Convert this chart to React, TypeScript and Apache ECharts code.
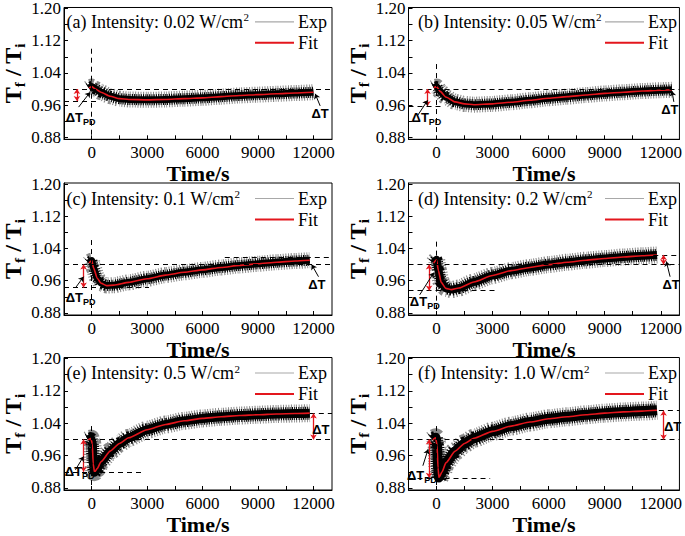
import React, { useEffect, useRef } from 'react';
import * as echarts from 'echarts';

// ---------- data ----------
const panelLetters = ['a', 'b', 'c', 'd', 'e', 'f'];
const intensities = ['0.02', '0.05', '0.1', '0.2', '0.5', '1.0'];

const xTickLabels = [0, 3000, 6000, 9000, 12000];
const xTicks = [-1500, 0, 1500, 3000, 4500, 6000, 7500, 9000, 10500, 12000];
const yTickLabels = [0.88, 0.96, 1.04, 1.12, 1.2];
const yTicks = [0.88, 0.92, 0.96, 1.0, 1.04, 1.08, 1.12, 1.16, 1.2];

const curveA = [[-150, 1.002], [0, 1.006], [200, 1.0], [500, 0.992], [1000, 0.982], [1500, 0.976], [2000, 0.974], [3000, 0.973], [4000, 0.974], [5000, 0.976], [6000, 0.978], [7000, 0.981], [8000, 0.984], [9000, 0.986], [10000, 0.988], [11000, 0.99], [12000, 0.992]];
const curveB = [[-150, 1.003], [0, 1.006], [200, 0.994], [500, 0.98], [1000, 0.968], [1500, 0.963], [2000, 0.961], [3000, 0.963], [4000, 0.967], [5000, 0.972], [6000, 0.977], [7000, 0.981], [8000, 0.985], [9000, 0.989], [10000, 0.992], [11000, 0.995], [12000, 0.997], [12600, 0.998]];
const curveC = [[-150, 1.004], [0, 1.01], [100, 0.992], [300, 0.966], [500, 0.954], [800, 0.948], [1200, 0.949], [2000, 0.956], [3000, 0.965], [4000, 0.974], [5000, 0.981], [6000, 0.987], [7000, 0.993], [8000, 0.998], [9000, 1.002], [10000, 1.006], [11000, 1.009], [11800, 1.011]];
const curveD = [[-150, 1.004], [0, 1.012], [100, 0.985], [250, 0.956], [500, 0.941], [800, 0.938], [1200, 0.942], [2000, 0.957], [3000, 0.973], [4000, 0.985], [5000, 0.993], [6000, 1.0], [7000, 1.006], [8000, 1.011], [9000, 1.015], [10000, 1.019], [11000, 1.022], [11800, 1.024]];
const curveE = [[-200, 0.999], [-50, 1.002], [30, 0.99], [80, 0.94], [150, 0.919], [300, 0.928], [500, 0.945], [1000, 0.971], [1500, 0.99], [2000, 1.004], [3000, 1.024], [4000, 1.037], [5000, 1.046], [6000, 1.052], [7000, 1.056], [8000, 1.059], [9000, 1.061], [10000, 1.063], [11000, 1.064], [11800, 1.065]];
const curveF = [[-200, 0.999], [-50, 1.004], [30, 0.985], [80, 0.93], [130, 0.906], [300, 0.92], [500, 0.942], [1000, 0.971], [1500, 0.99], [2000, 1.003], [3000, 1.02], [4000, 1.033], [5000, 1.043], [6000, 1.051], [7000, 1.056], [8000, 1.061], [9000, 1.065], [10000, 1.068], [11000, 1.07], [11800, 1.072]];
const curves = [curveA, curveB, curveC, curveD, curveE, curveF];

// annotation values (data space)
const baseLevel = 1.0;
const lowLevels = [0.97, 0.958, 0.943, 0.936, 0.92, 0.905];
const lowEnds = [450, 340, 3100, 3130, 2850, 2870];
const highLevels = [null, null, 1.018, 1.024, 1.064, 1.071];
const highStarts = [null, null, 7200, 11600, 11800, 11900];
const zeroLineTops = [1.1, 1.062, 1.061, 1.057, 1.033, 1.033];
const pdArrowX = [-800, -480, -440, -400, -440, -400];
const dtArrowX = [null, null, null, 12150, 12000, 12150];
const pdLabelAt = [[-600, 0.929], [-540, 0.929], [-600, 0.918], [-630, 0.909], [-650, 0.92], [-790, 0.911]];
const pdPointers = [
  [[-710, 0.955], [-85, 0.992]],
  [[-1000, 0.935], [-470, 0.972]],
  [[-870, 0.943], [-440, 0.97]],
  [[-900, 0.925], [-150, 0.98]],
  [[-880, 0.925], [-440, 0.958]],
  [[-730, 0.935], [-450, 0.976]],
];
const dtLabelAt = [[12360, 0.939], [12490, 0.95], [12180, 0.95], [12550, 0.95], [12400, 1.025], [12630, 1.033]];
const dtPointers = [
  [[12360, 0.958], [12090, 0.988]],
  [[12700, 0.968], [12600, 0.995]],
  [[12270, 0.97], [11900, 1.0]],
  [[12500, 0.97], [12300, 1.008]],
  null,
  null,
];

// ---------- layout / style ----------
const X_MIN = -1500;
const X_MAX = 13000;
const Y_MIN = 0.875;
const Y_MAX = 1.2025;
const COLS = [{ left: 60.5, width: 271.5, titleDx: 6 }, { left: 408.5, width: 273.5, titleDx: 9.5 }];
const ROWS = [{ top: 6.3, height: 133 }, { top: 183, height: 132 }, { top: 357.5, height: 134.5 }];
const bandWidths = [7, 7, 7, 8, 9, 10];
const SERIF = 'Liberation Serif';
const SANS = 'Liberation Sans';
const RED = '#e3161d';

function buildOption() {
  const grids: any[] = [];
  const xAxes: any[] = [];
  const yAxes: any[] = [];
  const series: any[] = [];
  const graphics: any[] = [];

  curves.forEach((curve, i) => {
    const col = COLS[i % 2];
    const row = ROWS[Math.floor(i / 2)];
    const right = col.left + col.width;
    grids.push({
      left: col.left, top: row.top, width: col.width, height: row.height,
      show: true, borderColor: '#000', borderWidth: 1, backgroundColor: 'transparent',
    });
    xAxes.push({
      type: 'value', gridIndex: i, min: X_MIN, max: X_MAX,
      axisLine: { show: true, onZero: false, lineStyle: { color: '#000', width: 1 } },
      axisTick: { show: true, inside: true, length: 4, customValues: xTicks, lineStyle: { color: '#000' } },
      axisLabel: {
        customValues: xTickLabels, color: '#000', fontFamily: SERIF, fontSize: 17, margin: 5,
        formatter: (v: number) => String(v),
      },
      splitLine: { show: false },
      name: 'Time/s', nameLocation: 'middle', nameGap: 23,
      nameTextStyle: { fontFamily: SERIF, fontWeight: 'bold', fontSize: 22, color: '#000' },
    });
    yAxes.push({
      type: 'value', gridIndex: i, min: Y_MIN, max: Y_MAX,
      axisLine: { show: true, onZero: false, lineStyle: { color: '#000', width: 1 } },
      axisTick: { show: true, inside: true, length: 4, customValues: yTicks, lineStyle: { color: '#000' } },
      axisLabel: {
        customValues: yTickLabels, color: '#000', fontFamily: SERIF, fontSize: 17, margin: 3,
        formatter: (v: number) => v.toFixed(2),
      },
      splitLine: { show: false },
      name: '{t|T}{s|f}{t| / T}{s|i}', nameLocation: 'middle', nameRotate: 90, nameGap: 37,
      nameTextStyle: {
        color: '#000',
        rich: {
          t: { fontFamily: SERIF, fontWeight: 'bold', fontSize: 24, lineHeight: 28, color: '#000' },
          s: { fontFamily: SERIF, fontWeight: 'bold', fontSize: 15, lineHeight: 10, verticalAlign: 'bottom', color: '#000' },
        },
      },
    });

    const dash = { type: [5, 4], color: '#000', width: 1 };
    const redStyle = { type: 'solid', color: RED, width: 1.3 };
    const blackStyle = { type: 'solid', color: '#000', width: 1 };
    const lines: any[] = [
      [{ coord: [X_MIN, baseLevel], symbol: 'none', lineStyle: dash }, { coord: [X_MAX, baseLevel], symbol: 'none' }],
      [{ coord: [X_MIN, lowLevels[i]], symbol: 'none', lineStyle: dash }, { coord: [lowEnds[i], lowLevels[i]], symbol: 'none' }],
      [{ coord: [0, zeroLineTops[i]], symbol: 'none', lineStyle: dash }, { coord: [0, Y_MIN], symbol: 'none' }],
      [{ coord: [pdArrowX[i], baseLevel], symbol: 'arrow', lineStyle: redStyle }, { coord: [pdArrowX[i], lowLevels[i]], symbol: 'arrow' }],
      [{ coord: pdPointers[i][0], symbol: 'none', lineStyle: blackStyle }, { coord: pdPointers[i][1], symbol: 'arrow' }],
    ];
    const hl = highLevels[i];
    const hs = highStarts[i];
    if (hl !== null && hs !== null) {
      lines.push([{ coord: [hs, hl], symbol: 'none', lineStyle: dash }, { coord: [X_MAX, hl], symbol: 'none' }]);
    }
    const dx = dtArrowX[i];
    if (dx !== null && hl !== null) {
      lines.push([{ coord: [dx, baseLevel], symbol: 'arrow', lineStyle: redStyle }, { coord: [dx, hl], symbol: 'arrow' }]);
    }
    const dp = dtPointers[i];
    if (dp) {
      lines.push([{ coord: dp[0], symbol: 'none', lineStyle: blackStyle }, { coord: dp[1], symbol: 'arrow' }]);
    }

    const common = {
      type: 'line', xAxisIndex: i, yAxisIndex: i, data: curve,
      showSymbol: false, smooth: 0.2, smoothMonotone: 'x', silent: true,
    };
    // Exp: noisy band imitated by hatched wide strokes around a black core
    series.push({
      ...common, name: 'Exp', z: 1,
      lineStyle: { color: '#8a8a8a', width: bandWidths[i] + 9, type: [1, 1.6] },
    });
    series.push({
      ...common, name: 'Exp', z: 2,
      lineStyle: { color: '#000', width: bandWidths[i] + 4, type: [1, 1.2] },
    });
    series.push({
      ...common, name: 'Exp', z: 3,
      lineStyle: { color: '#000', width: bandWidths[i] },
    });
    series.push({
      ...common, name: 'Fit', z: 4,
      lineStyle: { color: RED, width: 1.6 },
      markLine: {
        silent: true, symbolSize: 5, label: { show: false }, emphasis: { disabled: true },
        animation: false, data: lines,
      },
      markPoint: {
        silent: true, symbol: 'circle', symbolSize: 1,
        itemStyle: { color: 'rgba(0,0,0,0)' },
        label: {
          show: true, position: 'inside', color: '#000',
          rich: {
            d: { fontFamily: SANS, fontWeight: 'bold', fontSize: 13, lineHeight: 18, color: '#000' },
            p: { fontFamily: SANS, fontWeight: 'bold', fontSize: 9, lineHeight: 8, verticalAlign: 'bottom', color: '#000' },
          },
        },
        data: [
          { coord: pdLabelAt[i], label: { formatter: '{d|ΔT}{p|PD}' } },
          { coord: dtLabelAt[i], label: { formatter: '{d|ΔT}' } },
        ],
      },
    });

    // title
    graphics.push({
      type: 'text', silent: true,
      style: {
        x: col.left + col.titleDx, y: row.top + 15.5,
        text: `{t|(${panelLetters[i]}) Intensity: ${intensities[i]} W/cm}{s|2}`,
        verticalAlign: 'middle', align: 'left',
        rich: {
          t: { fontFamily: SERIF, fontSize: 18, lineHeight: 20, fill: '#000' },
          s: { fontFamily: SERIF, fontSize: 11, lineHeight: 10, verticalAlign: 'top', fill: '#000' },
        },
      },
    });
    // legend
    const ly1 = row.top + 15.5;
    const ly2 = row.top + 36.5;
    graphics.push({ type: 'line', silent: true, shape: { x1: right - 77, y1: ly1, x2: right - 38, y2: ly1 }, style: { stroke: '#a8a8a8', lineWidth: 1.2 } });
    graphics.push({ type: 'line', silent: true, shape: { x1: right - 77, y1: ly2, x2: right - 38, y2: ly2 }, style: { stroke: RED, lineWidth: 2 } });
    graphics.push({ type: 'text', silent: true, style: { x: right - 34, y: ly1, text: 'Exp', font: `18px "${SERIF}"`, fill: '#000', verticalAlign: 'middle' } });
    graphics.push({ type: 'text', silent: true, style: { x: right - 34, y: ly2, text: 'Fit', font: `18px "${SERIF}"`, fill: '#000', verticalAlign: 'middle' } });
  });

  return {
    animation: false,
    backgroundColor: '#fff',
    textStyle: { fontFamily: SERIF },
    grid: grids,
    xAxis: xAxes,
    yAxis: yAxes,
    series,
    graphic: graphics,
  };
}

export default function App() {
  const ref = useRef<HTMLDivElement>(null);
  useEffect(() => {
    const chart = echarts.init(ref.current!, null, { renderer: 'svg' });
    chart.setOption(buildOption() as any);
    return () => chart.dispose();
  }, []);
  return (
    <div
      ref={ref}
      style={{ position: 'absolute', left: 0, top: 0, width: 685, height: 536, background: '#fff' }}
    />
  );
}
